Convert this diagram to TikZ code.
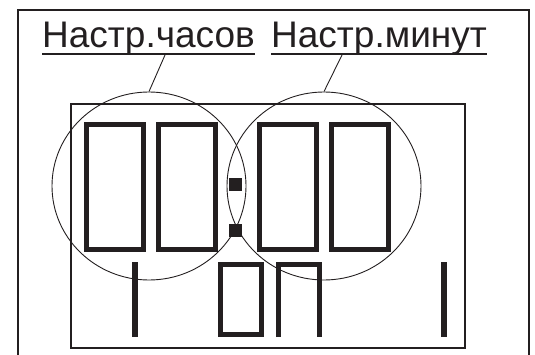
\documentclass[tikz,border=0pt]{standalone}
\usepackage{fontspec}
\newfontfamily\capfont{Liberation Sans}
\usepackage{tikz}
\usetikzlibrary{shapes.geometric}
\definecolor{ink}{RGB}{35,31,32}
\tikzset{
    frame/.style={draw=ink, line width=2pt},
    panel/.style={draw=ink, line width=2.5pt},
    caption/.style={inner sep=0pt, text=ink, font=\capfont\fontsize{37}{40}\selectfont},
    underline/.style={draw=ink, line width=2pt},
    leader/.style={draw=ink, line width=0.9pt},
    zone/.style={ellipse, draw=ink, line width=0.9pt, inner sep=0pt, minimum width=194pt, minimum height=188pt},
    digit/.style={rectangle, draw=ink, line width=5pt, inner sep=0pt, minimum width=57pt, minimum height=125pt},
    smalldigit/.style={rectangle, draw=ink, line width=5pt, inner sep=0pt, minimum width=41pt, minimum height=70pt},
    dot/.style={rectangle, fill=ink, inner sep=0pt, minimum size=13pt},
    bar/.style={rectangle, fill=ink, inner sep=0pt, minimum width=6pt, minimum height=75pt},
}

\begin{document}
\begin{tikzpicture}[x=1pt, y=-1pt]
	\useasboundingbox (0,0) rectangle (535,355);
	% outer frame, open at the bottom
	\draw[frame] (18,356)--(18,10)--(529,10)--(529,356);
	% display
	\draw[panel] (71,104) rectangle (465,348);
	% big digits
	\node[digit] (h1) at (115,187.5) {};
	\node[digit] (h2) at (186.5,187.5) {};
	\node[digit] (m1) at (288,187.5) {};
	\node[digit] (m2) at (360,187.5) {};
	\node[dot] (dotup) at (235.5,184.5) {};
	\node[dot] (dotdown) at (235.5,231) {};
	% lower row
	\node[bar] (barl) at (135,299.5) {};
	\node[smalldigit] (lowzero) at (241,299.5) {};
	\draw[draw=ink, line width=5pt] (278.5,337)--(278.5,264.5)--(319.5,264.5)--(319.5,337);
	\node[bar] (barr) at (444,299.5) {};
	% zones
	\node[zone] (hours) at (149,186) {};
	\node[zone] (minutes) at (324,186) {};
	% captions
	\node[caption, anchor=base west] (hlab) at (42,48) {Настр.часов};
	\node[caption, anchor=base west] (mlab) at (271,48) {Настр.минут};
	\draw[underline] ([yshift=-6pt]hlab.base west)--([yshift=-6pt]hlab.base east);
	\draw[underline] ([yshift=-6pt]mlab.base west)--([yshift=-6pt]mlab.base east);
	\draw[leader] ([xshift=123pt,yshift=-7pt]hlab.base west)--(hours.north);
	\draw[leader] ([xshift=71pt,yshift=-7pt]mlab.base west)--(minutes.north);
\end{tikzpicture}
\end{document}
